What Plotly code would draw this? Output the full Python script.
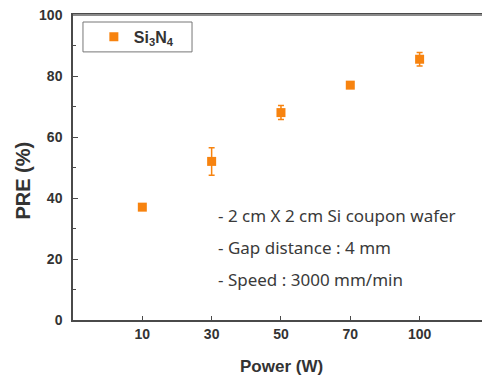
import plotly.graph_objects as go

power_labels = ["10", "30", "50", "70", "100"]
pre_values = [37.0, 52.0, 68.0, 77.0, 85.5]
pre_errors = [0.8, 4.5, 2.3, 1.0, 2.2]
y_ticks = [0, 20, 40, 60, 80, 100]
notes = ["- 2 cm X 2 cm Si coupon wafer", "- Gap distance : 4 mm", "- Speed : 3000 mm/min"]

ORANGE = "#f7830f"
AX = "#4a4a4a"
BOLD = "Liberation Sans, Arial, sans-serif"

fig = go.Figure()
fig.add_trace(go.Scatter(
    x=power_labels, y=pre_values,
    mode="markers",
    name="Si<sub>3</sub>N<sub>4</sub>",
    marker=dict(symbol="square", size=9, color=ORANGE),
    error_y=dict(type="data", array=pre_errors, visible=True, color=ORANGE, thickness=1.5, width=3),
))

note_y = [0.341, 0.237, 0.134]
for t, yy in zip(notes, note_y):
    fig.add_annotation(x=0.35, y=yy, xref="paper", yref="paper", text=t, showarrow=False,
                       xanchor="left", yanchor="middle",
                       font=dict(family="Noto Sans, DejaVu Sans, sans-serif", size=17, color="#3a3a3a"))

# axis titles
fig.add_annotation(x=-0.123, y=0.456, xref="paper", yref="paper", text="PRE (%)", showarrow=False,
                   textangle=-90, xanchor="center", yanchor="middle",
                   font=dict(family=BOLD, size=20, weight="bold", color="#333333"))
fig.add_annotation(x=0.509, y=-0.154, xref="paper", yref="paper", text="Power (W)", showarrow=False,
                   xanchor="center", yanchor="middle",
                   font=dict(family=BOLD, size=17, weight="bold", color="#333333"))

# legend box and top frame line
fig.add_shape(type="rect", xref="paper", yref="paper", x0=0.0244, x1=0.291, y0=0.879, y1=0.977,
              line=dict(color="#777777", width=1))
fig.add_shape(type="rect", xref="paper", yref="paper", x0=0, x1=1, y0=0.997, y1=1.003,
              line=dict(width=0), fillcolor="#8a8a8a")

fig.update_layout(
    width=486, height=383,
    margin=dict(l=73, r=4, t=15, b=63),
    paper_bgcolor="white", plot_bgcolor="white",
    showlegend=True,
    legend=dict(x=0.051, y=0.984, xanchor="left", yanchor="top",
                borderwidth=0, bgcolor="rgba(0,0,0,0)",
                font=dict(family=BOLD, size=16, color="#333333", weight="bold"),
                itemwidth=30, tracegroupgap=0),
    font=dict(family=BOLD, color="#333333"),
)
fig.update_xaxes(
    type="category", range=[-1, 4.9],
    showgrid=False, zeroline=False,
    showline=True, linecolor=AX, linewidth=1.5, mirror=True,
    ticks="inside", ticklen=4, tickcolor=AX, tickwidth=1.2,
    tickfont=dict(size=14, weight="bold", color="#333333"),
)
fig.update_yaxes(
    range=[0, 100], tickvals=y_ticks,
    showgrid=False, zeroline=False,
    showline=True, linecolor=AX, linewidth=1.5,
    ticks="inside", ticklen=5, tickcolor=AX, tickwidth=1.2,
    minor=dict(dtick=10, ticks="inside", ticklen=3, tickcolor=AX, tickwidth=1),
    ticklabelstandoff=6,
    tickfont=dict(size=14, weight="bold", color="#333333"),
)

fig.write_html("out.html", config={"displayModeBar": False},
               post_script="document.body.style.margin='0';")
